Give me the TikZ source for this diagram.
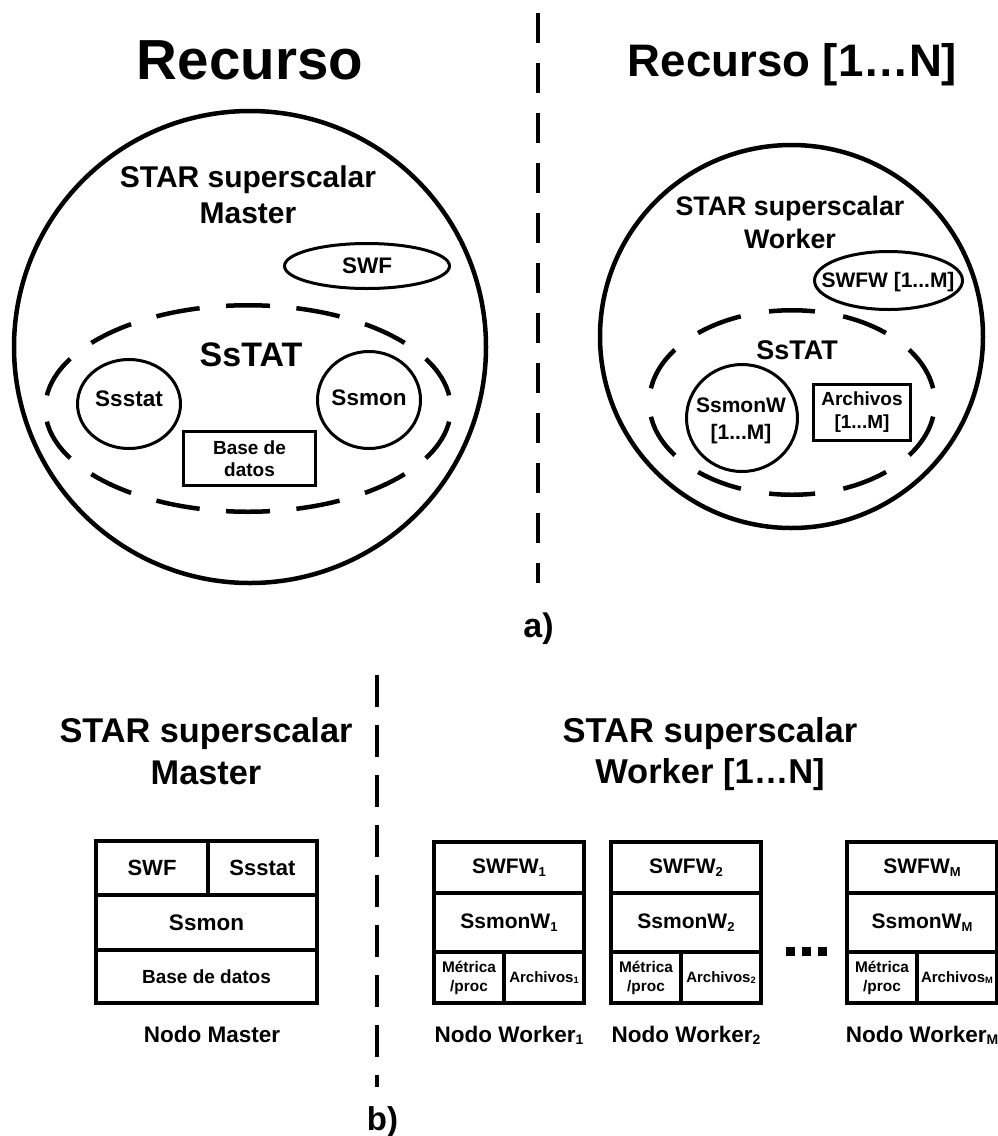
\documentclass[tikz,border=0pt]{standalone}
\usepackage{fontspec}
\setmainfont{Liberation Sans}
\usepackage{tikz}
\usetikzlibrary{shapes}
\newcommand{\fsz}[2]{\fontsize{#1}{#2}\selectfont}
\makeatletter
\newcommand{\sub}[1]{\raisebox{-0.12em}{\fontsize{\fpeval{0.62*\f@size}}{0pt}\selectfont#1}}
\makeatother

\begin{document}
\begin{tikzpicture}[x=1pt,y=-1pt,
  txt/.style={inner sep=0pt, anchor=base, align=center},
  ring/.style={draw, line width=4.5pt, circle, inner sep=0pt},
  thinring/.style={draw, line width=3pt, ellipse, inner sep=0pt},
  dashring/.style={draw, line width=4.5pt, ellipse, inner sep=0pt},
  box/.style={draw, line width=3pt, rectangle, inner sep=0pt, align=center},
  cell/.style={draw, line width=4pt, rectangle, inner sep=0pt, align=center},
  divider/.style={line width=4pt, dash pattern=on 30pt off 20pt}]
\useasboundingbox (0,0) rectangle (998,1136);
\coordinate (divatop) at (538,13);
\coordinate (divabot) at (538,583);
\draw[divider] (divatop) -- (divabot);
\coordinate (divbtop) at (377,675);
\coordinate (divbbot) at (377,1087);
\draw[divider, dash pattern=on 32pt off 18pt] (divbtop) -- (divbbot);
\node[txt, font=\bfseries\fsz{56.5}{60}] (recurso) at (250,79) {Recurso};
\node[txt, font=\bfseries\fsz{45.6}{50}] (recursos) at (792.5,76) {Recurso [1…N]};
\node[txt, font=\bfseries\fsz{34}{40}] (parta) at (538.5,637) {a)};
\node[txt, font=\bfseries\fsz{33}{40}] (partb) at (382.5,1130) {b)};

\node[ring, minimum size=472] (recm) at (250,347) {};
\node[txt, font=\bfseries\fsz{30}{36}] (starm) at (248,223) {STAR superscalar\\Master};
\node[thinring, minimum width=165, minimum height=45, font=\bfseries\fsz{22.5}{27}] (swf) at (367,266) {SWF};
\node[dashring, minimum width=405.5, minimum height=206.5, dash pattern=on 44pt off 26.5pt, dash phase=57.25pt] (sstatm) at (248,408.5) {};
\node[txt, font=\bfseries\fsz{34}{40}] (sstatml) at (251,366) {SsTAT};
\node[thinring, minimum width=103, minimum height=89] (ssstat) at (129,404) {};
\node[txt, font=\bfseries\fsz{22.5}{27}] (ssstatl) at (129,406) {Ssstat};
\node[thinring, minimum width=103, minimum height=97] (ssmon) at (369,400) {};
\node[txt, font=\bfseries\fsz{22.5}{27}] (ssmonl) at (369,405) {Ssmon};
\node[box, minimum width=132, minimum height=54, font=\bfseries\fsz{19}{22}] (bd) at (249.5,458.5) {Base de\\datos};

\node[ring, minimum size=383] (recw) at (791.5,336.5) {};
\node[txt, font=\bfseries\fsz{26.8}{33}] (starw) at (790,248) {STAR superscalar\\Worker};
\node[thinring, minimum width=148, minimum height=58] (swfw) at (888.5,280.5) {};
\node[txt, font=\bfseries\fsz{21}{25}] (swfwl) at (888,287) {SWFW [1...M]};
\node[dashring, minimum width=285.5, minimum height=184.5, dash pattern=on 46pt off 28.7pt, dash phase=60.35pt] (sstatw) at (792,402.5) {};
\node[txt, font=\bfseries\fsz{27}{32}] (sstatwl) at (797,359) {SsTAT};
\node[thinring, minimum width=111, minimum height=107] (ssmonw) at (742,418) {};
\node[txt, font=\bfseries\fsz{21}{26.5}] (ssmonwl) at (741,439) {SsmonW\\{[1...M]}};
\node[box, minimum width=97, minimum height=56, font=\bfseries\fsz{19}{23}] (arch) at (862,412.5) {Archivos\\{[1...M]}};

\node[txt, font=\bfseries\fsz{34.3}{42}] (starmb) at (206,784) {STAR superscalar\\Master};
\node[txt, font=\bfseries\fsz{34.5}{41}] (starwb) at (710,783) {STAR superscalar\\Worker [1…N]};
\node[cell, minimum width=112, minimum height=54, font=\bfseries\fsz{22}{26}] (swfm) at (152,868) {SWF};
\node[cell, minimum width=109, minimum height=54, font=\bfseries\fsz{22}{26}] (ssstatm) at (262.5,868) {Ssstat};
\node[cell, minimum width=221, minimum height=55, font=\bfseries\fsz{22.5}{26}] (ssmonm) at (206.5,922.5) {Ssmon};
\node[cell, minimum width=221, minimum height=53, font=\bfseries\fsz{19}{22}] (bdm) at (206.5,976.5) {Base de datos};
\node[txt, font=\bfseries\fsz{22.5}{27}] (nodom) at (212,1042) {Nodo Master};
\foreach \l/\s in {434/1,611/2,847/M}{
  \node[cell, minimum width=150, minimum height=51, font=\bfseries\fsz{21}{25}] (swfw\s) at (\l+75,867.5) {SWFW\sub{\s}};
  \node[cell, minimum width=150, minimum height=59, font=\bfseries\fsz{21}{25}] (ssmonw\s) at (\l+75,922.5) {SsmonW\sub{\s}};
  \node[cell, minimum width=70, minimum height=51, font=\bfseries\fsz{15.4}{19}] (metr\s) at (\l+35,977.5) {Métrica\\/proc};
  \node[cell, minimum width=80, minimum height=51, font=\bfseries\fsz{15}{18}] (arch\s) at (\l+110,977.5) {Archivos\sub{\s}};
  \node[txt, font=\bfseries\fsz{22.5}{27}] (nodow\s) at (\l+75,1042) {Nodo Worker\sub{\s}};
}
\foreach \d in {1,2,3}
  \node[fill, minimum size=9, inner sep=0pt] (dot\d) at (774.5+16*\d,951.5) {};
\end{tikzpicture}
\end{document}
